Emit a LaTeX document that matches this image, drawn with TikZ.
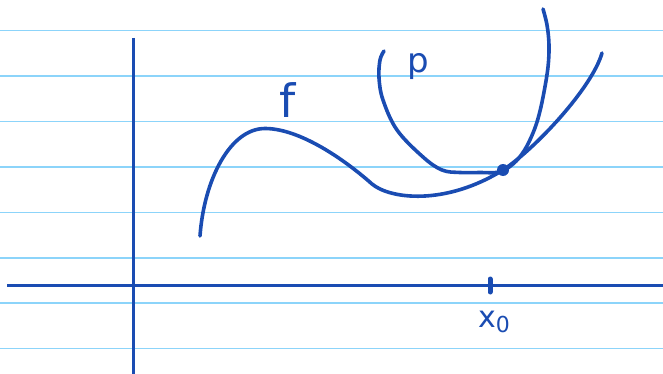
\documentclass[tikz,border=0pt]{standalone}
\usepackage{fontspec}
\newfontfamily\handfont{DejaVu Sans}
\usepackage{xcolor}
\usetikzlibrary{positioning}

\definecolor{inkblue}{RGB}{26,76,178}
\definecolor{ruleblue}{RGB}{140,212,250}

\begin{document}
\begin{tikzpicture}[
  x=1pt, y=-1pt,
  ruling/.style={ruleblue, line width=1.6pt},
  axis/.style={inkblue, line width=3pt},
  curve/.style={inkblue, line width=3.6pt, line cap=round, line join=round},
  hand/.style={inkblue, font=\handfont\fontsize{34}{34}\selectfont, inner sep=0pt},
  dot/.style={circle, fill=inkblue, minimum size=12pt, inner sep=0pt}
]
  \useasboundingbox (0,0) rectangle (663,374);
  % ruled paper
  \foreach \k in {0,...,7}
    \draw[ruling] (0,30.7+45.4*\k) -- (663,30.7+45.4*\k);
  % axes
  \draw[axis] (7,285) -- (663,285);
  \draw[axis] (133,38) -- (133,374);
  \draw[inkblue, line width=5pt, line cap=round] (490,279) -- (490,292);
  \node[dot] (touch) at (503,170) {};
  % f
  \draw[curve] (200,236) .. controls (204,180) and (230,128.5) .. (265,128.5)
    .. controls (300,128.5) and (345,160) .. (372,184)
    .. controls (390,199) and (445,206) .. (touch.center)
    .. controls (535,149) and (592,88) .. (602,53);
  % p
  \draw[curve] plot[smooth, tension=0.6] coordinates {
    (384,51) (380,60) (379,78) (383,100) (397,130) (423,157) (442,170)
    (460,172.5) (480,172.5) (499,172) (513,164) (524,151) (533,133)
    (539,115) (544,92) (548,67) (549,45) (547,25) (543,9)};
  % labels
  \node[hand, font=\handfont\fontsize{46}{46}\selectfont] (flabel) at (288,100) {f};
  \node[hand] (plabel) at (418,67) {p};
  \node[hand, font=\handfont\fontsize{30}{30}\selectfont] (x0label) at (494,322)
    {x\raisebox{-5pt}{\fontsize{22}{22}\selectfont 0}};
\end{tikzpicture}
\end{document}
